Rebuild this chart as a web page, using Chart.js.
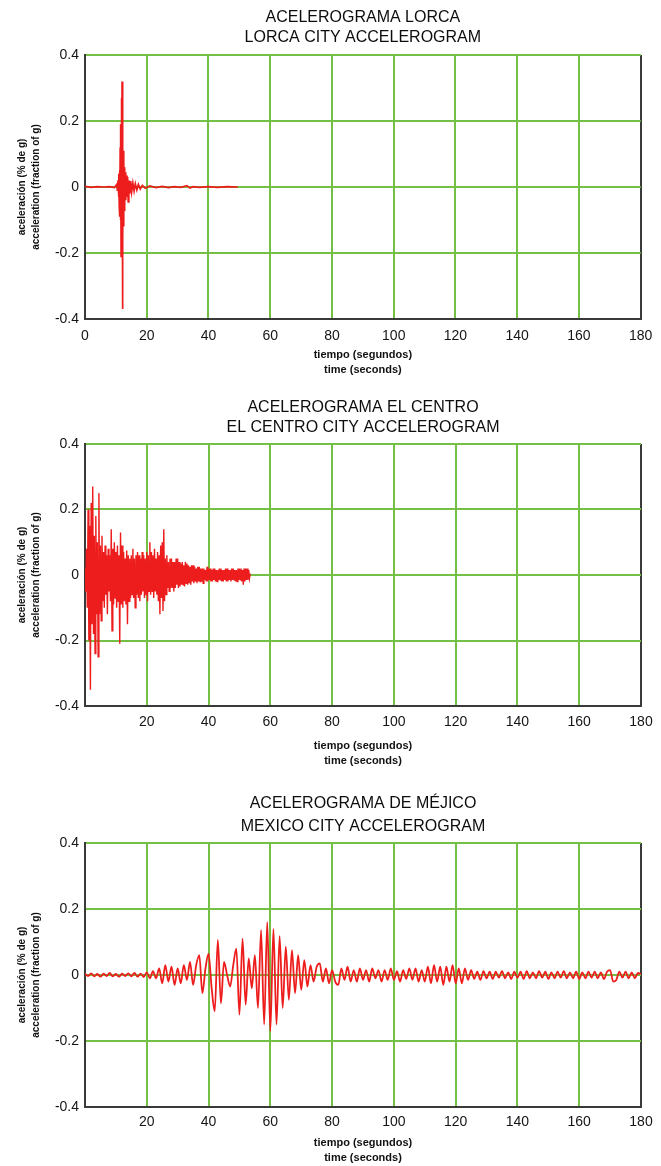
<!DOCTYPE html>
<html>
<head>
<meta charset="utf-8">
<script src="https://cdn.jsdelivr.net/npm/chart.js@4.4.1/dist/chart.umd.min.js"></script>
<style>
  html, body { margin: 0; padding: 0; background: #fff; }
  body { width: 661px; height: 1166px; position: relative; overflow: hidden; }
  .panel { position: absolute; left: 0; width: 661px; }
</style>
</head>
<body>
<div class="panel" style="top:0;height:390px"><canvas id="lorcaChart"></canvas></div>
<div class="panel" style="top:390px;height:390px"><canvas id="centroChart"></canvas></div>
<div class="panel" style="top:780px;height:386px"><canvas id="mexicoChart"></canvas></div>
<script>
// axis ticks
const xTickValues = [0, 20, 40, 60, 80, 100, 120, 140, 160, 180];
const xTickLabels = ['0', '20', '40', '60', '80', '100', '120', '140', '160', '180'];
const xTickLabelsNoZero = ['', '20', '40', '60', '80', '100', '120', '140', '160', '180'];
const yTickValues = [-0.4, -0.2, 0, 0.2, 0.4];
const yTickLabels = ['-0.4', '-0.2', '0', '0.2', '0.4'];

const xTitle = ['tiempo (segundos)', 'time (seconds)'];
const yTitle = ['aceleración (% de g)', 'acceleration (fraction of g)'];

// Lorca record (seconds, fraction of g)
const lorcaTitle = ['ACELEROGRAMA LORCA', 'LORCA CITY ACCELEROGRAM'];
const lorcaTime = [0, 2, 4, 6, 8, 9.5, 10.3, 10.5, 10.7, 10.9,
  11.0, 11.1, 11.2, 11.3, 11.4, 11.5, 11.6, 11.7, 11.8, 11.9,
  12.0, 12.1, 12.2, 12.3, 12.4, 12.5, 12.6, 12.7, 12.8, 12.9,
  13.0, 13.2, 13.4, 13.6, 13.8, 14.0, 14.2, 14.5, 14.8, 15.1,
  15.5, 15.9, 16.3, 16.8, 17.3, 17.9, 18.6, 19.5, 21, 23,
  25, 27, 29, 31, 33, 34, 35, 37, 40, 43, 46, 49.5];
const lorcaAccel = [0.002, -0.001, 0.001, 0, 0.001, -0.002, 0.008, -0.012, 0.02, -0.03,
  0.04, -0.06, 0.05, -0.09, 0.12, -0.1, 0.19, -0.21, 0.27, -0.2,
  0.32, -0.37, 0.2, -0.16, 0.11, -0.12, 0.08, -0.07, 0.06, -0.05,
  0.045, -0.04, 0.035, -0.03, 0.03, -0.045, 0.02, -0.02, 0.018, -0.015,
  0.012, -0.012, 0.01, -0.009, 0.008, -0.006, 0.005, -0.004, 0.003, -0.002,
  0.002, -0.002, 0.001, -0.001, 0.004, -0.003, 0.001, -0.001, 0.001, -0.001, 0.001, 0];

// El Centro record, one sample every 0.25 s
const centroTitle = ['ACELEROGRAMA EL CENTRO', 'EL CENTRO CITY ACCELEROGRAM'];
const centroStep = 0.25;
const centroAccel = [
  0.02, -0.05, 0.08, -0.1,   0.2, -0.2, 0.15, -0.35,    0.22, -0.15, 0.27, -0.18,
  0.12, -0.24, 0.18, -0.12,  0.1, -0.25, 0.25, -0.12,   0.09, -0.14, 0.12, -0.08,
  0.07, -0.1, 0.09, -0.06,   0.06, -0.12, 0.08, -0.05,  0.06, -0.08, 0.14, -0.17,
  0.08, -0.09, 0.1, -0.07,   0.07, -0.1, 0.09, -0.08,   0.06, -0.21, 0.13, -0.09,
  0.09, -0.1, 0.07, -0.08,   0.05, -0.09, 0.075, -0.15, 0.06, -0.08, 0.05, -0.07,
  0.06, -0.06, 0.08, -0.07,  0.05, -0.1, 0.06, -0.06,   0.07, -0.07, 0.06, -0.08,
  0.05, -0.06, 0.07, -0.05,  0.06, -0.07, 0.05, -0.06,  0.07, -0.08, 0.06, -0.05,
  0.1, -0.06, 0.07, -0.05,   0.06, -0.07, 0.08, -0.05,  0.05, -0.06, 0.07, -0.08,
  0.06, -0.12, 0.09, -0.07,  0.1, -0.11, 0.14, -0.08,   0.05, -0.06, 0.06, -0.04,
  0.04, -0.05, 0.05, -0.04,  0.05, -0.04, 0.04, -0.05,  0.04, -0.04, 0.05, -0.03,
  0.05, -0.04, 0.04, -0.035, 0.035, -0.03, 0.04, -0.03, 0.03, -0.035, 0.04, -0.025,
  0.035, -0.03, 0.03, -0.025, 0.025, -0.03, 0.03, -0.02, 0.03, -0.025, 0.025, -0.02,
  0.02, -0.025, 0.025, -0.02, 0.025, -0.02, 0.02, -0.02, 0.02, -0.025, 0.02, -0.015,
  0.015, -0.02, 0.025, -0.02, 0.02, -0.015, 0.02, -0.02, 0.015, -0.02, 0.02, -0.015,
  0.02, -0.02, 0.015, -0.02, 0.015, -0.015, 0.02, -0.015, 0.02, -0.02, 0.015, -0.02,
  0.015, -0.015, 0.02, -0.02, 0.02, -0.02, 0.015, -0.015, 0.015, -0.02, 0.02, -0.015,
  0.02, -0.015, 0.015, -0.02, 0.015, -0.02, 0.02, -0.015, 0.02, -0.015, 0.02, -0.02,
  0.015, -0.03, 0.02, -0.02, 0.02, -0.015, 0.02, -0.015, 0.015, -0.01, 0.005];

// Mexico City record, one sample per second
const mexicoTitle = ['ACELEROGRAMA DE MÉJICO', 'MEXICO CITY ACCELEROGRAM'];
const mexicoStep = 1;
const mexicoAccel = [
  0.004, -0.003, 0.005, -0.004, 0.003, -0.005, 0.004, -0.003, 0.006, -0.004,
  0.003, -0.005, 0.004, -0.003, 0.005, -0.004, 0.006, -0.005, 0.004, -0.006,
  0.008, -0.01, 0.012, -0.01, 0.02, -0.025, 0.03, -0.02, 0.025, -0.03,
  0.02, -0.025, 0.03, -0.015, 0.04, -0.03, 0.03, 0.06, -0.055, 0.02,
  0.065, -0.04, -0.11, 0.106, -0.086, 0.04, 0.0, -0.035, 0.03, 0.08,
  -0.12, 0.11, -0.09, 0.05, -0.04, 0.06, -0.1, 0.136, -0.15, 0.16,
  -0.17, 0.14, -0.15, 0.118, -0.1, 0.086, -0.075, 0.075, -0.055, 0.06,
  -0.045, 0.045, -0.035, 0.03, -0.02, 0.025, 0.035, -0.02, 0.02, -0.025,
  0.015, -0.02, -0.03, 0.02, -0.015, 0.025, -0.02, 0.015, -0.02, 0.02,
  -0.015, 0.015, -0.02, 0.02, -0.01, 0.015, -0.02, 0.015, -0.015, 0.02,
  -0.015, 0.012, -0.02, 0.015, -0.012, 0.02, -0.015, 0.02, -0.02, 0.015,
  -0.02, 0.025, -0.025, 0.03, -0.02, 0.025, -0.03, 0.025, -0.02, 0.03,
  -0.025, 0.02, -0.025, 0.02, -0.015, 0.015, -0.012, 0.01, -0.015, 0.012,
  -0.01, 0.01, -0.012, 0.01, -0.008, 0.012, -0.01, 0.008, -0.012, 0.01,
  -0.008, 0.01, -0.012, 0.012, -0.01, 0.008, -0.01, 0.012, -0.008, 0.01,
  -0.012, 0.008, -0.01, 0.01, -0.008, 0.012, -0.01, 0.008, -0.01, 0.01,
  -0.012, 0.008, -0.01, 0.01, -0.008, 0.01, -0.01, 0.008, -0.012, 0.01,
  0.015, -0.02, -0.015, 0.01, -0.008, 0.01, -0.01, 0.008, -0.01, 0.006,
  0.003];

const gridGreen = '#74c046';
const axisDark = '#3a3a3a';
const signalRed = '#ee1d1d';
const fontFamily = '"Liberation Sans", Arial, Helvetica, sans-serif';

function sampleTimes(values, step) {
  return values.map((v, i) => i * step);
}

function buildChart(canvasId, title, times, accel, xLabels, lay, smooth, lineWidth) {
  const points = times.map((t, i) => ({ x: t, y: accel[i] }));
  return new Chart(document.getElementById(canvasId), {
    type: 'line',
    data: {
      datasets: [{
        data: points,
        borderColor: signalRed,
        borderWidth: lineWidth,
        pointRadius: 0,
        tension: 0,
        cubicInterpolationMode: smooth ? 'monotone' : 'default'
      }]
    },
    options: {
      animation: false,
      responsive: true,
      maintainAspectRatio: false,
      layout: { padding: { left: 0, right: 20, top: 0, bottom: 0 } },
      plugins: {
        legend: { display: false },
        tooltip: { enabled: false },
        title: {
          display: true,
          text: title,
          fullSize: false,
          color: '#0d0d0d',
          font: { family: fontFamily, size: 16, weight: 'normal', lineHeight: lay.titleLH / 16 },
          padding: { top: lay.titleTop, bottom: lay.titleBottom }
        }
      },
      scales: {
        x: {
          type: 'linear',
          min: 0,
          max: 180,
          afterBuildTicks: s => { s.ticks = xTickValues.map(v => ({ value: v })); },
          afterFit: s => { s.height = lay.xHeight; },
          grid: {
            color: ctx => (ctx.tick && ctx.tick.value === 180 ? axisDark : gridGreen),
            lineWidth: 2,
            drawTicks: false
          },
          border: { color: axisDark, width: 2 },
          ticks: {
            padding: lay.tickPad,
            color: '#151515',
            autoSkip: false,
            maxRotation: 0,
            font: { family: fontFamily, size: 14 },
            callback: (v, i) => xLabels[i]
          },
          title: {
            display: true,
            text: xTitle,
            color: '#111',
            padding: { top: 0, bottom: lay.xTitleBottom },
            font: { family: fontFamily, size: 11, weight: 'bold', lineHeight: 15 / 11 }
          }
        },
        y: {
          min: -0.4,
          max: 0.4,
          afterBuildTicks: s => { s.ticks = yTickValues.map(v => ({ value: v })); },
          afterFit: s => { s.width = 85; },
          grid: { color: gridGreen, lineWidth: 2, drawTicks: false },
          border: { color: axisDark, width: 2 },
          ticks: {
            padding: 6,
            color: '#151515',
            font: { family: fontFamily, size: 14 },
            callback: (v, i) => yTickLabels[i]
          },
          title: {
            display: true,
            text: yTitle,
            color: '#111',
            padding: { top: 15, bottom: 0 },
            font: { family: fontFamily, size: 10, weight: 'bold', lineHeight: 1.4 }
          }
        }
      }
    }
  });
}

buildChart('lorcaChart', lorcaTitle, lorcaTime, lorcaAccel, xTickLabels,
  { titleTop: 8, titleLH: 20, titleBottom: 7, xHeight: 71, tickPad: 8.6, xTitleBottom: 12.5 }, false, 1.7);

buildChart('centroChart', centroTitle, sampleTimes(centroAccel, centroStep), centroAccel, xTickLabelsNoZero,
  { titleTop: 8, titleLH: 20, titleBottom: 6, xHeight: 74, tickPad: 7.6, xTitleBottom: 11.5 }, false, 1.4);

buildChart('mexicoChart', mexicoTitle, sampleTimes(mexicoAccel, mexicoStep), mexicoAccel, xTickLabelsNoZero,
  { titleTop: 12.5, titleLH: 23, titleBottom: 4.5, xHeight: 59, tickPad: 6.6, xTitleBottom: 0.5 }, true, 1.8);
</script>
</body>
</html>
